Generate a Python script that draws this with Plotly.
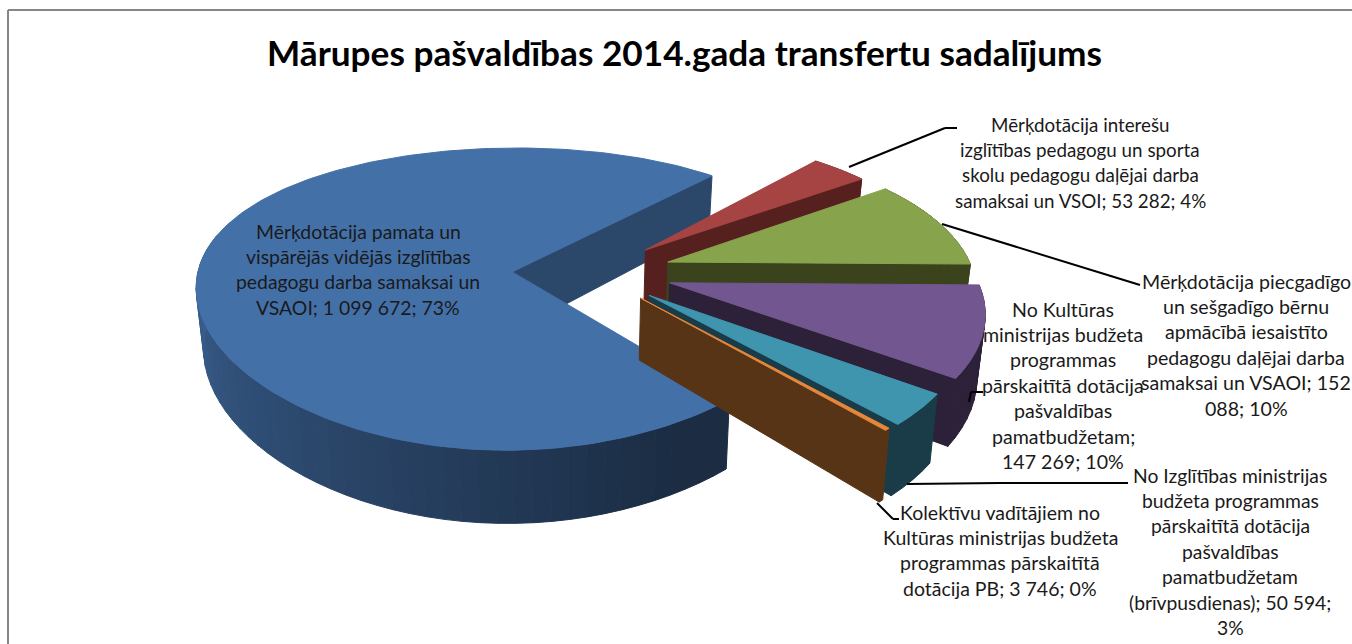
import math
import plotly.graph_objects as go

title = "Mārupes pašvaldības 2014.gada transfertu sadalījums"
values = [1099672, 53282, 152088, 147269, 50594, 3746]
names = ["Pamata un vispārējā izglītība", "Interešu izglītība", "Piecgadīgo apmācība",
         "Kultūras ministrija", "Izglītības ministrija", "Kolektīvu vadītāji"]
top_colors = ["#4470a8", "#a54442", "#87a44d", "#725690", "#3f95ae", "#e6873a"]
wall_colors = ["#2b476a", "#56201f", "#3a431c", "#2c2138", "#193c48", "#583417"]
pulls = [0.19, 0.34, 0.34, 0.34, 0.34, 0.34]
radii = [1.03, 1, 1, 1, 1, 1]
x_persp = [0.5, 0.9, 0.9, 0.9, 0.9, 0.9]

label_lines = [
    ["Mērķdotācija pamata un", "vispārējās vidējās izglītības", "pedagogu darba samaksai un", "VSAOI; 1 099 672; 73%"],
    ["Mērķdotācija interešu", "izglītības pedagogu un sporta", "skolu pedagogu daļējai darba", "samaksai un VSOI; 53 282; 4%"],
    ["Mērķdotācija piecgadīgo", "un sešgadīgo bērnu", "apmācībā iesaistīto", "pedagogu daļējai darba", "samaksai un VSAOI; 152", "088; 10%"],
    ["No Kultūras", "ministrijas budžeta", "programmas", "pārskaitītā dotācija", "pašvaldības", "pamatbudžetam;", "147 269; 10%"],
    ["No Izglītības ministrijas", "budžeta programmas", "pārskaitītā dotācija", "pašvaldības", "pamatbudžetam", "(brīvpusdienas); 50 594;", "3%"],
    ["Kolektīvu vadītājiem no", "Kultūras ministrijas budžeta", "programmas pārskaitītā", "dotācija PB; 3 746; 0%"],
]
label_x = [358, 1080, 1246, 1063, 1230, 1000]
label_y0 = [231, 124, 281, 309, 475, 512]
label_size = [19.4, 18.8, 19.6, 19.6, 19.3, 19.5]
line_step = 25.4
leaders = [
    None,
    [(849, 167), (945, 128), (957, 128)],
    [(942, 224), (1140, 285)],
    [(969, 402), (971, 392), (983, 392)],
    [(907, 484), (1000, 483), (1128, 483)],
    [(877, 503), (893, 519), (899, 519)],
]

CX, CY, RX, RY, K, H = 570, 272, 305, 142, 0.175, 60
PULL_Y = 0.7
BOTTOM_SCALE = 0.98
START = 49.0
FONT = "Lato"


def project(u, v, z=0.0, exp=0.9):
    s = 1 / (1 - K * v)
    shrink = 1 - (1 - BOTTOM_SCALE) * z
    return CX + RX * u * s ** exp * shrink, CY + RY * v * s + z * H * s


def mix(hex_color, f):
    r, g, b = (int(hex_color[i:i + 2], 16) for i in (1, 3, 5))
    return f"rgb({int(r * f)},{int(g * f)},{int(b * f)})"


fig = go.Figure()


def poly(pts, color, name):
    fig.add_trace(go.Scatter(
        x=[p[0] for p in pts] + [pts[0][0]], y=[p[1] for p in pts] + [pts[0][1]],
        mode="lines", fill="toself", fillcolor=color, line=dict(color=color, width=1),
        hoverinfo="name", name=name, showlegend=False))


total = sum(values)
angle = START
slices = []
for val, pull, rad in zip(values, pulls, radii):
    sweep = val / total * 360
    mid = math.radians(angle + sweep / 2)
    slices.append((angle, angle + sweep, pull * math.cos(mid), PULL_Y * pull * math.sin(mid), rad))
    angle += sweep


def arc_pts(i, a0, a1, z=0.0, n=60):
    _, _, ou, ov, rad = slices[i]
    out = []
    for k in range(n + 1):
        t = math.radians(a0 + (a1 - a0) * k / n)
        out.append(project(ou + rad * math.cos(t), ov + rad * math.sin(t), z, x_persp[i]))
    return out


def radial_wall(i, a, color):
    _, _, ou, ov, rad = slices[i]
    t = math.radians(a)
    e = (ou + rad * math.cos(t), ov + rad * math.sin(t))
    x = x_persp[i]
    poly([project(ou, ov, 0, x), project(*e, 0, x), project(*e, 1, x), project(ou, ov, 1, x)], color, names[i])


def outer_wall(i, a0, a1, shade):
    steps = max(2, int(abs(a1 - a0) / 3))
    for k in range(steps):
        b0 = a0 + (a1 - a0) * k / steps
        b1 = a0 + (a1 - a0) * (k + 1) / steps
        top = arc_pts(i, b0, b1, 0, 4)
        bot = arc_pts(i, b0, b1, 1, 4)
        poly(top + bot[::-1], shade((b0 + b1) / 2), names[i])


def blue_shade(a):
    f = (a - 60) / 130
    f = min(1, max(0, f))
    return mix(top_colors[0], 0.40 + 0.48 * f)


# blue: inner wall at the rear cut, curved front wall, top
a0, a1, ou, ov, _ = slices[0]
radial_wall(0, a1, wall_colors[0])
outer_wall(0, a0, 195, blue_shade)
poly([project(ou, ov, 0, x_persp[0])] + arc_pts(0, a0, a1, 0, 200), top_colors[0], names[0])

# the other slices, rear to front
for i in range(1, len(values)):
    a0, a1, ou, ov, _ = slices[i]
    radial_wall(i, a1, wall_colors[i])
    outer_wall(i, a0, a1, lambda a, c=wall_colors[i]: c)
    poly([project(ou, ov, 0, x_persp[i])] + arc_pts(i, a0, a1, 0, 30), top_colors[i], names[i])

annotations = [dict(x=684, y=52, xref="x", yref="y", text=f"<b>{title}</b>", showarrow=False,
                    font=dict(family=FONT, size=35.2, color="#000000"))]
for lines, lx, ly, size in zip(label_lines, label_x, label_y0, label_size):
    for j, line in enumerate(lines):
        annotations.append(dict(x=lx, y=ly + j * line_step, xref="x", yref="y", text=line, showarrow=False,
                                font=dict(family=FONT, size=size, color="#1a1a1a")))

shapes = [
    dict(type="line", xref="x", yref="y", x0=8, y0=10, x1=1352, y1=10, line=dict(color="#868686", width=2)),
    dict(type="line", xref="x", yref="y", x0=8, y0=10, x1=8, y1=644, line=dict(color="#868686", width=2)),
]
for path in leaders:
    if path:
        for p, q in zip(path, path[1:]):
            shapes.append(dict(type="line", xref="x", yref="y", x0=p[0], y0=p[1], x1=q[0], y1=q[1],
                               line=dict(color="#000000", width=2)))

fig.update_layout(
    width=1352, height=644, margin=dict(l=0, r=0, t=0, b=0), paper_bgcolor="white", plot_bgcolor="white",
    xaxis=dict(range=[0, 1352], visible=False, fixedrange=True),
    yaxis=dict(range=[644, 0], visible=False, fixedrange=True),
    annotations=annotations, shapes=shapes, showlegend=False, hovermode="closest",
)
fig.write_html("out.html", config=dict(displayModeBar=False),
               post_script="document.body.style.margin='0';document.body.style.overflow='hidden';")
